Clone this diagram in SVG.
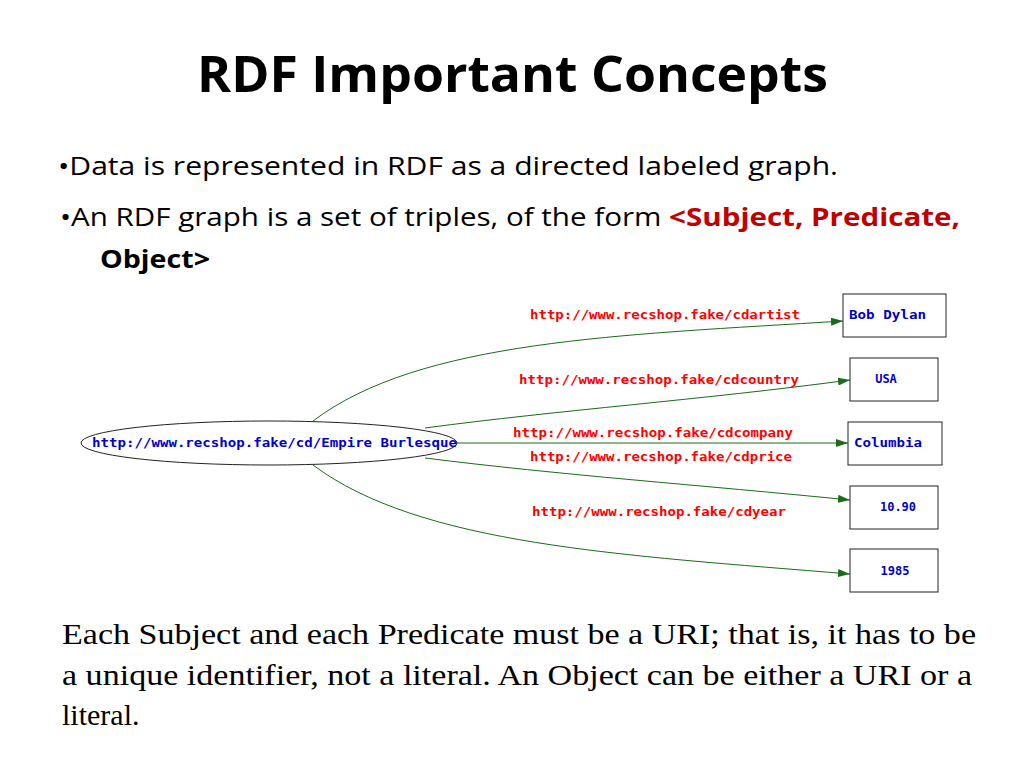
<svg xmlns="http://www.w3.org/2000/svg" width="1024" height="768" viewBox="0 0 1024 768">
<style>
.t{font-family:"Open Sans","Liberation Sans",sans-serif;fill:#000}
.m{font-family:"DejaVu Sans Mono","Liberation Mono",monospace;font-size:12px;font-weight:bold}
.lab{fill:#ff0000}
.nt{fill:#0000cc}
.box{fill:#fff;stroke:#222;stroke-width:1}
.e{fill:none;stroke:#1a6b1a;stroke-width:1}
.s{font-family:"Liberation Serif",serif;font-size:30px;fill:#000}
</style>
<defs><marker id="a" markerWidth="12" markerHeight="8" refX="12" refY="4" orient="auto" markerUnits="userSpaceOnUse"><path d="M0,0L12,4L0,8z" fill="#1a6b1a"/></marker></defs>
<rect width="1024" height="768" fill="#fff"/>
<text x="197" y="92" class="t" font-size="50" font-weight="bold" textLength="631" lengthAdjust="spacingAndGlyphs">RDF Important Concepts</text>
<text x="58" y="175" class="t" font-size="26" textLength="780" lengthAdjust="spacingAndGlyphs">•Data is represented in RDF as a directed labeled graph.</text>
<text x="60" y="226" class="t" font-size="25" textLength="900" lengthAdjust="spacingAndGlyphs">•An RDF graph is a set of triples, of the form <tspan fill="#c00000" font-weight="bold">&lt;Subject, Predicate,</tspan></text>
<text x="100" y="268" class="t" font-size="25" font-weight="bold" fill="#c00000" textLength="110" lengthAdjust="spacingAndGlyphs">Object&gt;</text>
<g id="connectors">
<path class="e" d="M313,421 C420,340 620,335 843,321" marker-end="url(#a)"/>
<path class="e" d="M425,428 C560,410 700,400 850,380" marker-end="url(#a)"/>
<path class="e" d="M457,443 L848,443" marker-end="url(#a)"/>
<path class="e" d="M425,458 C560,475 700,485 850,500" marker-end="url(#a)"/>
<path class="e" d="M313,465 C420,545 620,555 850,574" marker-end="url(#a)"/>
<text x="530" y="319" class="m lab" textLength="270" lengthAdjust="spacingAndGlyphs">http://www.recshop.fake/cdartist</text>
<text x="519" y="384" class="m lab" textLength="280" lengthAdjust="spacingAndGlyphs">http://www.recshop.fake/cdcountry</text>
<text x="513" y="437" class="m lab" textLength="280" lengthAdjust="spacingAndGlyphs">http://www.recshop.fake/cdcompany</text>
<text x="530" y="461" class="m lab" textLength="262" lengthAdjust="spacingAndGlyphs">http://www.recshop.fake/cdprice</text>
<text x="532" y="516" class="m lab" textLength="254" lengthAdjust="spacingAndGlyphs">http://www.recshop.fake/cdyear</text>
</g>
<g id="subject"><ellipse cx="269" cy="443" rx="188" ry="22" fill="#fff" stroke="#222"/><text x="92" y="447" class="m nt" textLength="365" lengthAdjust="spacingAndGlyphs">http://www.recshop.fake/cd/Empire Burlesque</text></g>
<g id="n1"><rect class="box" x="843" y="294" width="103" height="43"/><text x="849" y="319" class="m nt" textLength="77" lengthAdjust="spacingAndGlyphs">Bob Dylan</text></g>
<g id="n2"><rect class="box" x="850" y="358" width="88" height="43"/><text x="886" y="383" class="m nt" text-anchor="middle">USA</text></g>
<g id="n3"><rect class="box" x="848" y="422" width="94" height="43"/><text x="854" y="447" class="m nt" textLength="68" lengthAdjust="spacingAndGlyphs">Columbia</text></g>
<g id="n4"><rect class="box" x="850" y="486" width="88" height="43"/><text x="898" y="511" class="m nt" text-anchor="middle">10.90</text></g>
<g id="n5"><rect class="box" x="850" y="549" width="88" height="43"/><text x="895" y="575" class="m nt" text-anchor="middle">1985</text></g>
<text x="62" y="644" class="s" textLength="914" lengthAdjust="spacingAndGlyphs">Each Subject and each Predicate must be a URI; that is, it has to be</text>
<text x="62" y="685" class="s" textLength="910" lengthAdjust="spacingAndGlyphs">a unique identifier, not a literal. An Object can be either a URI or a</text>
<text x="62" y="725" class="s">literal.</text>
</svg>
